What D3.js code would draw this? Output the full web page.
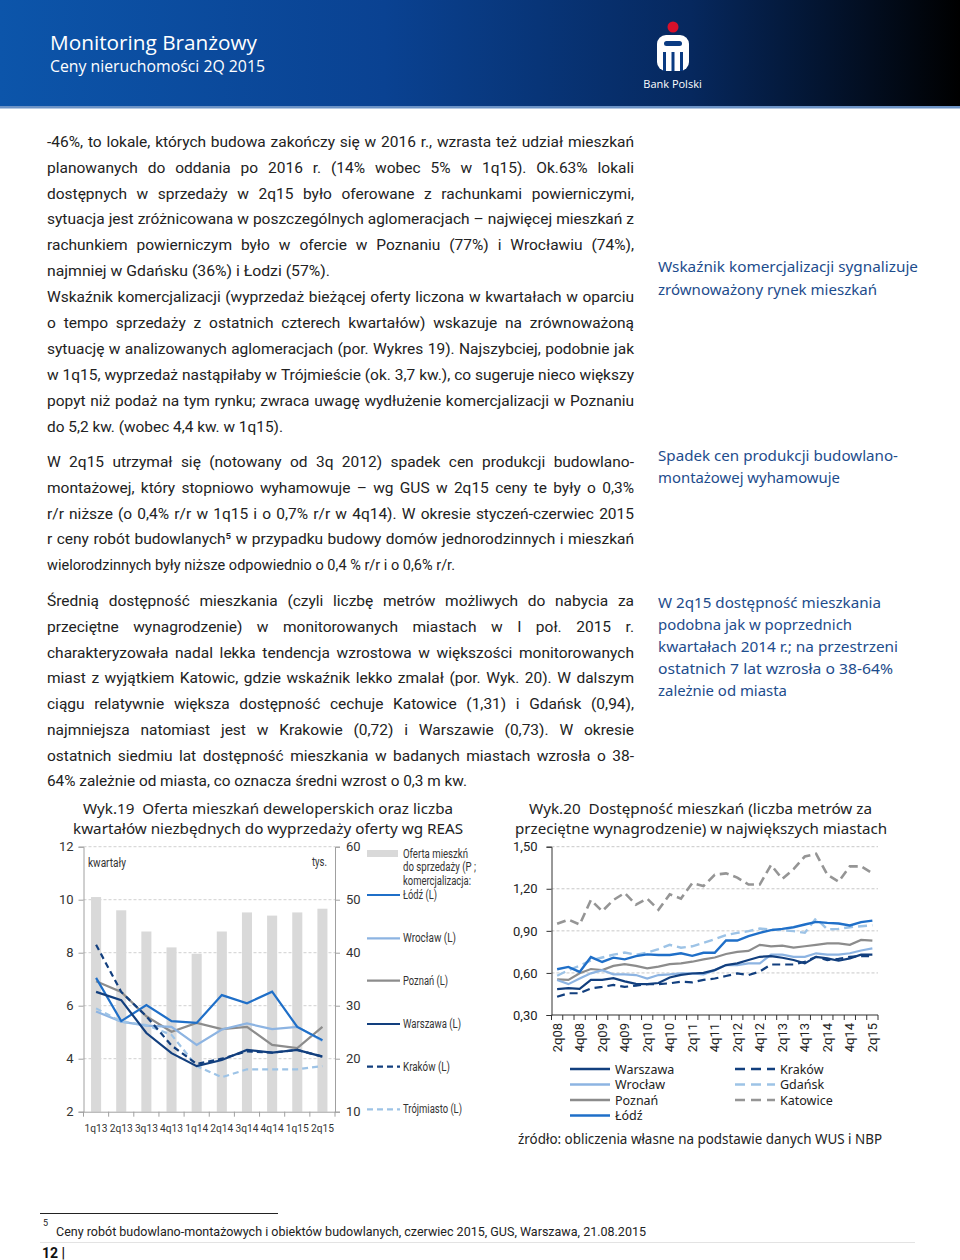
<!DOCTYPE html>
<html><head><meta charset="utf-8">
<script src="https://cdn.jsdelivr.net/npm/d3@7"></script>
<style>body{margin:0;background:#fff;} svg{display:block;}</style>
</head><body>
<svg id="page" width="960" height="1260"></svg>
<script>
// ---------------- DATA ----------------
const quarters1 = ["1q13","2q13","3q13","4q13","1q14","2q14","3q14","4q14","1q15","2q15"];
const oferta = [50.5, 48.0, 44.0, 41.0, 39.8, 44.0, 47.6, 47.0, 47.6, 48.3];
const lodz1 = [7.05, 5.42, 6.02, 5.42, 5.35, 6.4, 6.09, 6.53, 5.2, 4.7];
const wroclaw1 = [5.78, 5.4, 5.25, 5.2, 4.52, 5.1, 5.33, 5.12, 5.2, 4.68];
const poznan1 = [6.92, 6.52, 5.6, 5.02, 5.35, 5.12, 5.2, 4.52, 4.4, 5.2];
const warszawa1 = [6.52, 6.21, 4.97, 4.21, 3.72, 3.95, 4.33, 4.23, 4.33, 4.08];
const krakow1 = [8.3, 6.52, 5.6, 4.5, 3.8, 4.0, 4.28, 4.23, 4.33, 4.08];
const trojmiasto1 = [5.9, 5.4, 5.27, 4.9, 3.72, 3.3, 3.6, 3.6, 3.6, 3.72];
const leftTicks1 = [2, 4, 6, 8, 10, 12];
const rightTicks1 = [10, 20, 30, 40, 50, 60];

const quarters2 = ["2q08","3q08","4q08","1q09","2q09","3q09","4q09","1q10","2q10","3q10","4q10","1q11","2q11","3q11","4q11","1q12","2q12","3q12","4q12","1q13","2q13","3q13","4q13","1q14","2q14","3q14","4q14","1q15","2q15"];
const katowice2 = [0.95, 0.98, 0.945, 1.12, 1.04, 1.12, 1.17, 1.087, 1.13, 1.05, 1.16, 1.13, 1.24, 1.22, 1.30, 1.31, 1.28, 1.23, 1.23, 1.37, 1.27, 1.34, 1.43, 1.45, 1.30, 1.25, 1.36, 1.36, 1.31];
const lodz2 = [0.626, 0.643, 0.607, 0.713, 0.678, 0.709, 0.697, 0.72, 0.732, 0.728, 0.728, 0.74, 0.722, 0.744, 0.744, 0.831, 0.831, 0.862, 0.886, 0.905, 0.914, 0.926, 0.945, 0.964, 0.957, 0.952, 0.938, 0.962, 0.973];
const gdansk2 = [0.58, 0.62, 0.65, 0.69, 0.71, 0.73, 0.745, 0.73, 0.745, 0.77, 0.80, 0.78, 0.79, 0.815, 0.84, 0.87, 0.886, 0.898, 0.917, 0.91, 0.905, 0.898, 0.886, 0.99, 0.91, 0.914, 0.926, 0.933, 0.94];
const poznan2 = [0.554, 0.55, 0.597, 0.628, 0.62, 0.65, 0.663, 0.65, 0.633, 0.645, 0.663, 0.668, 0.68, 0.697, 0.71, 0.735, 0.75, 0.757, 0.80, 0.79, 0.795, 0.78, 0.79, 0.80, 0.81, 0.81, 0.80, 0.835, 0.83];
const wroclaw2 = [0.55, 0.52, 0.56, 0.597, 0.62, 0.59, 0.59, 0.585, 0.56, 0.585, 0.59, 0.597, 0.597, 0.59, 0.62, 0.656, 0.656, 0.668, 0.668, 0.73, 0.73, 0.715, 0.715, 0.74, 0.73, 0.73, 0.74, 0.76, 0.775];
const warszawa2 = [0.485, 0.492, 0.486, 0.55, 0.55, 0.563, 0.54, 0.522, 0.52, 0.528, 0.567, 0.586, 0.596, 0.60, 0.62, 0.656, 0.668, 0.692, 0.715, 0.72, 0.708, 0.692, 0.668, 0.715, 0.704, 0.687, 0.704, 0.73, 0.73];
const krakow2 = [0.43, 0.455, 0.455, 0.49, 0.50, 0.514, 0.50, 0.51, 0.52, 0.52, 0.526, 0.538, 0.533, 0.55, 0.56, 0.578, 0.597, 0.585, 0.61, 0.66, 0.66, 0.66, 0.68, 0.715, 0.692, 0.70, 0.715, 0.72, 0.72];
const yTicks2 = [0.30, 0.60, 0.90, 1.20, 1.50];

// ---------------- TEXT ----------------
const para1 = [
 "-46%, to lokale, których budowa zakończy się w 2016 r., wzrasta też udział mieszkań",
 "planowanych do oddania po 2016 r. (14% wobec 5% w 1q15).   Ok.63% lokali",
 "dostępnych w sprzedaży w 2q15 było oferowane z rachunkami powierniczymi,",
 "sytuacja jest zróżnicowana w poszczególnych aglomeracjach – najwięcej mieszkań z",
 "rachunkiem powierniczym było w ofercie w Poznaniu (77%) i Wrocławiu (74%),",
 "najmniej w Gdańsku (36%) i Łodzi (57%)."];
const para2 = [
 "Wskaźnik komercjalizacji (wyprzedaż bieżącej oferty liczona w kwartałach w oparciu",
 "o tempo sprzedaży z ostatnich czterech kwartałów) wskazuje na zrównoważoną",
 "sytuację w analizowanych aglomeracjach (por. Wykres 19). Najszybciej, podobnie jak",
 "w 1q15, wyprzedaż nastąpiłaby w Trójmieście (ok. 3,7 kw.), co sugeruje nieco większy",
 "popyt niż podaż na tym rynku; zwraca uwagę wydłużenie komercjalizacji w Poznaniu",
 "do 5,2 kw. (wobec 4,4 kw. w 1q15)."];
const para3 = [
 "W 2q15 utrzymał się (notowany od 3q 2012) spadek cen produkcji budowlano-",
 "montażowej, który stopniowo wyhamowuje – wg GUS w 2q15 ceny te były o 0,3%",
 "r/r niższe (o 0,4% r/r w 1q15 i o 0,7% r/r w 4q14). W okresie styczeń-czerwiec 2015",
 "r ceny robót budowlanych⁵ w przypadku budowy domów jednorodzinnych i mieszkań",
 "wielorodzinnych były niższe odpowiednio o 0,4 % r/r i o 0,6% r/r."];
const para4 = [
 "Średnią dostępność mieszkania (czyli liczbę metrów możliwych do nabycia za",
 "przeciętne wynagrodzenie) w monitorowanych miastach w I poł. 2015 r.",
 "charakteryzowała nadal lekka tendencja wzrostowa w większości monitorowanych",
 "miast z wyjątkiem Katowic, gdzie wskaźnik lekko zmalał (por. Wyk. 20). W dalszym",
 "ciągu relatywnie większa dostępność cechuje Katowice (1,31) i Gdańsk (0,94),",
 "najmniejsza natomiast jest w Krakowie (0,72) i Warszawie (0,73).   W okresie",
 "ostatnich siedmiu lat dostępność mieszkania w badanych miastach wzrosła o 38-",
 "64% zależnie od miasta, co oznacza średni wzrost o 0,3 m kw."];
const side1 = ["Wskaźnik komercjalizacji sygnalizuje","zrównoważony rynek mieszkań"];
const side2 = ["Spadek cen produkcji budowlano-","montażowej wyhamowuje"];
const side3 = ["W 2q15 dostępność mieszkania","podobna jak w poprzednich","kwartałach 2014 r.; na przestrzeni","ostatnich 7 lat wzrosła o 38-64%","zależnie od miasta"];

// ---------------- PAGE ----------------
const svg = d3.select("#page");
svg.append("rect").attr("width",960).attr("height",1260).attr("fill","#fff");
const defs = svg.append("defs");
const grad = defs.append("linearGradient").attr("id","hdr").attr("x1","0").attr("x2","1").attr("y1","0").attr("y2","0");
[["0%","#0c55aa"],["40%","#0a4292"],["72%","#06285e"],["100%","#000000"]].forEach(s=>grad.append("stop").attr("offset",s[0]).attr("stop-color",s[1]));
svg.append("rect").attr("x",0).attr("y",0).attr("width",960).attr("height",106).attr("fill","url(#hdr)");
svg.append("rect").attr("x",0).attr("y",106).attr("width",960).attr("height",2.5).attr("fill","#6c93c6");
svg.append("text").attr("x",50).attr("y",50).attr("fill","#fff").attr("font-family","Open Sans").attr("font-size",20.5).attr("textLength",207).attr("lengthAdjust","spacingAndGlyphs").text("Monitoring Branżowy");
svg.append("text").attr("x",50).attr("y",72).attr("fill","#fff").attr("font-family","Open Sans").attr("font-size",15.5).attr("textLength",215).attr("lengthAdjust","spacingAndGlyphs").text("Ceny nieruchomości 2Q 2015");
// logo
svg.append("circle").attr("cx",673).attr("cy",27).attr("r",5.5).attr("fill","#d8102a");
svg.append("rect").attr("x",657).attr("y",35).attr("width",32).attr("height",36).attr("rx",9).attr("fill","#fff");
svg.append("rect").attr("x",664).attr("y",41).attr("width",18).attr("height",5).attr("rx",2.5).attr("fill","#0a3b82");
[663,671.5,680].forEach(x=>svg.append("rect").attr("x",x).attr("y",52).attr("width",3).attr("height",19).attr("fill","#0a3b82"));
svg.append("text").attr("x",672.5).attr("y",88).attr("text-anchor","middle").attr("fill","#fff").attr("font-family","Open Sans").attr("font-size",11).text("Bank Polski");

// text helpers
const meas = svg.append("text").attr("visibility","hidden");
function widthOf(str, fam, size){ meas.attr("font-family",fam).attr("font-size",size).text(str); return meas.node().getComputedTextLength(); }
function line(str, x0, x1, y, o){
  const fam = o.fam || "Roboto", size = o.size || 15.5;
  const t = svg.append("text").attr("y",y).attr("fill",o.fill||"#222").attr("font-family",fam).attr("font-size",size);
  if(o.justify){
    const words = str.split(/\s+/);
    const ws = words.map(w=>widthOf(w,fam,size));
    const gap = (x1-x0-d3.sum(ws))/(words.length-1);
    if(gap < 2.5){ t.attr("x",x0).attr("textLength",x1-x0).attr("lengthAdjust","spacingAndGlyphs").text(str); return; }
    let x = x0;
    words.forEach((w,i)=>{ t.append("tspan").attr("x",x).text(w); x += ws[i]+gap; });
  } else {
    t.attr("x",x0).attr("xml:space","preserve").text(str);
    if(x1){ t.attr("textLength",x1-x0).attr("lengthAdjust","spacingAndGlyphs"); }
  }
}
function para(lines, ys, lastEnd){
  lines.forEach((s,i)=>{
    const last = i===lines.length-1;
    if(last) line(s,47,lastEnd,ys[i],{});
    else line(s,47,634,ys[i],{justify:true});
  });
}
para(para1,[146.5,172.5,198.5,223.5,249.5,275.5],330);
para(para2,[301.5,327.5,353.5,379.5,405.5,431.5],283);
para(para3,[466.5,492.5,518.5,543.5,569.5],455);
para(para4,[605.5,631.5,657.5,682.5,708.5,734.5,760.5,785.5],467);
const sideEnds1=[918,877], sideEnds2=[898,840], sideEnds3=[881,852,898,893,787];
side1.forEach((s,i)=>line(s,658,sideEnds1[i],[272,295][i],{fill:"#1d4c8c",fam:"Noto Sans",size:15}));
side2.forEach((s,i)=>line(s,658,sideEnds2[i],[461,483][i],{fill:"#1d4c8c",fam:"Noto Sans",size:15}));
side3.forEach((s,i)=>line(s,658,sideEnds3[i],[608,630,652,674,696][i],{fill:"#1d4c8c",fam:"Noto Sans",size:15}));

// ---------------- CHART 1 ----------------
const c1 = svg.append("g");
line("Wyk.19\u00a0 Oferta mieszkań deweloperskich oraz liczba",83,453,814,{fam:"Noto Sans",size:14.5});
line("kwartałów niezbędnych do wyprzedaży oferty wg REAS",73,463,834,{fam:"Noto Sans",size:14.5});
const x1 = d3.scaleBand().domain(quarters1).range([83.5,335]).paddingInner(0.6).paddingOuter(0.3);
const cx1 = d => x1(d)+x1.bandwidth()/2;
const yL = d3.scaleLinear().domain([2,12]).range([1111.7,846.7]);
const yR = d3.scaleLinear().domain([10,60]).range([1111.7,846.7]);
c1.selectAll(".g1").data(leftTicks1.filter(v=>v>2)).join("line").attr("x1",83.5).attr("x2",335).attr("y1",d=>yL(d)).attr("y2",d=>yL(d)).attr("stroke","#d0d0d0").attr("stroke-dasharray","3,2");
c1.selectAll(".bar").data(oferta).join("rect").attr("x",(d,i)=>x1(quarters1[i])).attr("width",x1.bandwidth()).attr("y",d=>yR(d)).attr("height",d=>yR(10)-yR(d)).attr("fill","#d9d9d9");
const axL = c1.append("g").attr("transform","translate(83.5,0)").call(d3.axisLeft(yL).tickValues(leftTicks1).tickSize(5).tickPadding(5));
const axR = c1.append("g").attr("transform","translate(335,0)").call(d3.axisRight(yR).tickValues(rightTicks1).tickSize(5).tickPadding(6));
[axL,axR].forEach(a=>{a.select(".domain").attr("stroke","#a0a0a0"); a.selectAll(".tick line").attr("stroke","#a0a0a0"); a.selectAll("text").attr("font-family","Roboto").attr("font-size",13).attr("fill","#333");});
const axB1 = c1.append("g").attr("transform","translate(0,1111.7)").call(d3.axisBottom(x1).tickSize(0).tickPadding(12));
axB1.select(".domain").attr("stroke","#a0a0a0");
axB1.selectAll("text").attr("font-family","Roboto").attr("font-size",11.5).attr("fill","#333").attr("textLength",23).attr("lengthAdjust","spacingAndGlyphs");
c1.selectAll(".bt").data(quarters1.concat(["end"])).join("line").attr("x1",(d,i)=>i<quarters1.length? x1(d)-x1.step()*x1.paddingInner()/2 : 335).attr("x2",(d,i)=>i<quarters1.length? x1(d)-x1.step()*x1.paddingInner()/2 : 335).attr("y1",1111.7).attr("y2",1116.7).attr("stroke","#a0a0a0");
c1.append("text").attr("x",88).attr("y",867).attr("font-family","Roboto").attr("font-size",12).attr("fill","#333").attr("textLength",38).attr("lengthAdjust","spacingAndGlyphs").text("kwartały");
c1.append("text").attr("x",312).attr("y",866).attr("font-family","Roboto").attr("font-size",12).attr("fill","#333").attr("textLength",15).attr("lengthAdjust","spacingAndGlyphs").text("tys.");
const series1 = [
 {name:"Poznań (L)", v:poznan1, c:"#8c8c8c", dash:null, ly:980.7, lw:45},
 {name:"Wrocław (L)", v:wroclaw1, c:"#8db4e2", dash:null, ly:938.3, lw:53},
 {name:"Trójmiasto (L)", v:trojmiasto1, c:"#9dc3e6", dash:"6,4", ly:1109.3, lw:59},
 {name:"Łódź (L)", v:lodz1, c:"#1f6fc8", dash:null, ly:895, lw:34},
 {name:"Warszawa (L)", v:warszawa1, c:"#123f7e", dash:null, ly:1024, lw:58},
 {name:"Kraków (L)", v:krakow1, c:"#123f7e", dash:"6,4", ly:1066.7, lw:47}
];
const ln1 = d3.line().x((d,i)=>cx1(quarters1[i])).y(d=>yL(d));
series1.forEach(s=>{
  c1.append("path").attr("d",ln1(s.v)).attr("fill","none").attr("stroke",s.c).attr("stroke-width",2.2).attr("stroke-dasharray",s.dash);
  c1.append("line").attr("x1",367).attr("x2",400).attr("y1",s.ly).attr("y2",s.ly).attr("stroke",s.c).attr("stroke-width",2.2).attr("stroke-dasharray",s.dash);
  c1.append("text").attr("x",403).attr("y",s.ly+4).attr("font-family","Roboto").attr("font-size",12).attr("fill","#333").attr("textLength",s.lw).attr("lengthAdjust","spacingAndGlyphs").text(s.name);
});
c1.append("rect").attr("x",367).attr("y",850).attr("width",31).attr("height",7).attr("fill","#d9d9d9");
[["Oferta mieszkń",857.5,65],["do sprzedaży (P ;",871,73],["komercjalizacja:",885,68]].forEach(a=>
  c1.append("text").attr("x",403).attr("y",a[1]).attr("font-family","Roboto").attr("font-size",12).attr("fill","#333").attr("textLength",a[2]).attr("lengthAdjust","spacingAndGlyphs").text(a[0]));

// ---------------- CHART 2 ----------------
const c2 = svg.append("g");
line("Wyk.20\u00a0 Dostępność mieszkań (liczba metrów za",529,872,814,{fam:"Noto Sans",size:14.5});
line("przeciętne wynagrodzenie) w największych miastach",515,887,834,{fam:"Noto Sans",size:14.5});
const x2 = d3.scaleBand().domain(quarters2).range([551.5,878]);
const cx2 = d => x2(d)+x2.bandwidth()/2;
const y2 = d3.scaleLinear().domain([0.3,1.5]).range([1015,846.7]);
c2.selectAll(".g2").data(yTicks2.filter(v=>v>0.3)).join("line").attr("x1",551.5).attr("x2",878).attr("y1",d=>y2(d)).attr("y2",d=>y2(d)).attr("stroke","#c8c8c8").attr("stroke-dasharray","3,2");
const fmt = d3.format(".2f");
const axL2 = c2.append("g").attr("transform","translate(551.5,0)").call(d3.axisLeft(y2).tickValues(yTicks2).tickSize(5).tickPadding(9).tickFormat(d=>fmt(d).replace(".",",")));
axL2.select(".domain").attr("stroke","#333"); axL2.selectAll(".tick line").attr("stroke","#333");
axL2.selectAll("text").attr("font-family","Roboto").attr("font-size",13).attr("fill","#222");
c2.append("line").attr("x1",551.5).attr("x2",878).attr("y1",1015).attr("y2",1015).attr("stroke","#333").attr("stroke-width",1.2);
c2.selectAll(".bt2").data(quarters2.concat(["end"])).join("line").attr("x1",(d,i)=>i<quarters2.length?x2(d):878).attr("x2",(d,i)=>i<quarters2.length?x2(d):878).attr("y1",1015).attr("y2",1020).attr("stroke","#333");
c2.selectAll(".xl2").data(quarters2.filter((d,i)=>i%2===0)).join("text")
  .attr("x",d=>cx2(d)).attr("y",1023).attr("dy","0.35em").attr("text-anchor","end")
  .attr("transform",d=>`rotate(-90,${cx2(d)},1023)`)
  .attr("font-family","Roboto").attr("font-size",13).attr("fill","#222").text(d=>d);
const series2 = [
 {name:"Katowice", v:katowice2, c:"#959595", dash:"9,5", w:2.6, lx:735, ly:1100},
 {name:"Poznań", v:poznan2, c:"#8c8c8c", dash:null, w:2.2, lx:570, ly:1100},
 {name:"Wrocław", v:wroclaw2, c:"#8db4e2", dash:null, w:2.2, lx:570, ly:1084.5},
 {name:"Gdańsk", v:gdansk2, c:"#9dc3e6", dash:"9,5", w:2.4, lx:735, ly:1084.5},
 {name:"Kraków", v:krakow2, c:"#123f7e", dash:"8,5", w:2.2, lx:735, ly:1069},
 {name:"Warszawa", v:warszawa2, c:"#123f7e", dash:null, w:2.2, lx:570, ly:1069},
 {name:"Łódź", v:lodz2, c:"#1f6fc8", dash:null, w:2.4, lx:570, ly:1115.5}
];
const ln2 = d3.line().x((d,i)=>cx2(quarters2[i])).y(d=>y2(d));
series2.forEach(s=>{
  c2.append("path").attr("d",ln2(s.v)).attr("fill","none").attr("stroke",s.c).attr("stroke-width",s.w).attr("stroke-dasharray",s.dash);
  c2.append("line").attr("x1",s.lx).attr("x2",s.lx+40).attr("y1",s.ly).attr("y2",s.ly).attr("stroke",s.c).attr("stroke-width",2.6).attr("stroke-dasharray",s.dash?"10,6":null);
  c2.append("text").attr("x",s.lx+45).attr("y",s.ly+4.5).attr("font-family","Noto Sans").attr("font-size",12.5).attr("fill","#222").text(s.name);
});
line("źródło: obliczenia własne na podstawie danych WUS i NBP",518,882,1144,{fam:"Noto Sans",size:14});

// ---------------- FOOTER ----------------
svg.append("line").attr("x1",40).attr("x2",278).attr("y1",1213.5).attr("y2",1213.5).attr("stroke","#222").attr("stroke-width",1);
svg.append("text").attr("x",43).attr("y",1226).attr("font-family","Roboto").attr("font-size",9).attr("fill","#222").text("5");
line("Ceny robót budowlano-montażowych i obiektów budowlanych, czerwiec 2015, GUS, Warszawa, 21.08.2015",56,646,1236,{size:13});
svg.append("line").attr("x1",40).attr("x2",915).attr("y1",1242.5).attr("y2",1242.5).attr("stroke","#e3e3e3");
svg.append("text").attr("x",42).attr("y",1258).attr("font-family","Roboto").attr("font-weight","bold").attr("font-size",14).attr("fill","#111").text("12 |");
meas.remove();
</script>
</body></html>
